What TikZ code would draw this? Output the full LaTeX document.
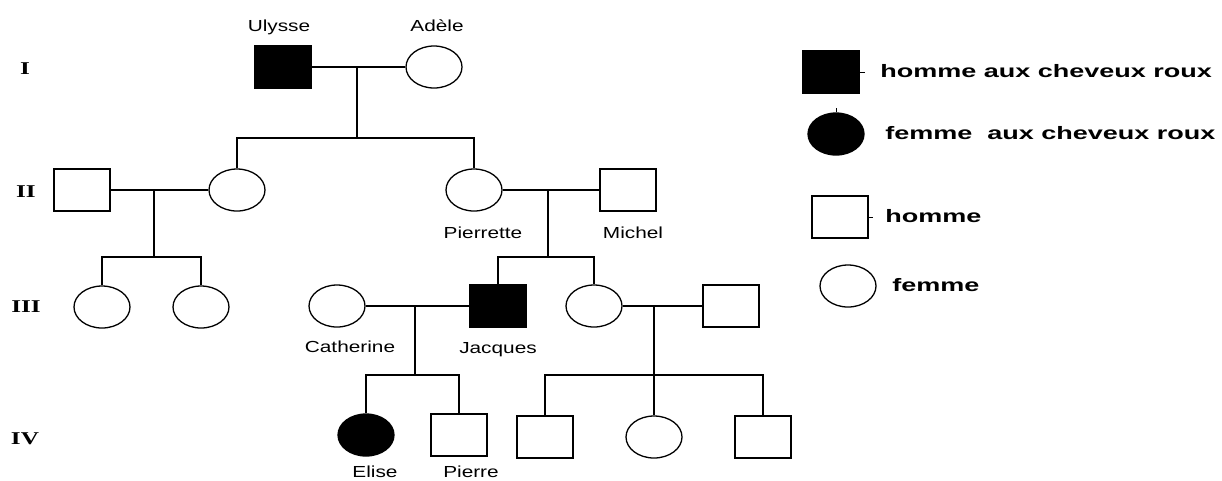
\documentclass[tikz,border=0pt]{standalone}
\usepackage{fontspec}
\setmainfont{Liberation Sans}
\newfontfamily\genfont{Liberation Serif}
\usepackage{graphicx}
\usetikzlibrary{positioning,shapes.geometric}

\newcommand{\wide}[2][1.3]{\scalebox{#1}[1]{#2}}

\begin{document}
\begin{tikzpicture}[x=1pt, y=-1pt, line width=1.3pt,
    every node/.style = {inner sep=0pt},
    homme/.style = {draw, rectangle, minimum width=56pt, minimum height=42pt},
    femme/.style = {draw, ellipse, minimum width=56pt, minimum height=42pt},
    roux/.style = {fill=black},
    nom/.style = {font=\fontsize{16}{19}\selectfont, text height=11.5pt, text depth=3.5pt},
    gen/.style = {font=\genfont\bfseries\fontsize{18}{21}\selectfont},
    leg/.style = {font=\bfseries\fontsize{18}{21}\selectfont, text height=13pt, text depth=2pt}
  ]
  \useasboundingbox (0,0) rectangle (1222,480);

  % generations
  \node[gen] (g1) at (25,69) {\wide[1.4]{I}};
  \node[gen] (g2) at (26,192) {\wide[1.4]{II}};
  \node[gen] (g3) at (26,307) {\wide[1.4]{III}};
  \node[gen] (g4) at (25,439) {\wide[1.4]{IV}};

  % I
  \node[homme, roux] (ulysse) at (283,67) {};
  \node[femme] (adele) at (434,67) {};
  \node[nom, above=9.5pt of ulysse, xshift=-4pt] (ulysseN) {\wide{Ulysse}};
  \node[nom, above=9.5pt of adele, xshift=3pt] (adeleN) {\wide{Adèle}};

  % II
  \node[homme] (mari) at (82,190) {};
  \node[femme] (fille) at (237,190) {};
  \node[femme] (pierrette) at (474,190) {};
  \node[homme] (michel) at (628,190) {};
  \node[nom, below=14.5pt of pierrette, xshift=9pt] (pierretteN) {\wide{Pierrette}};
  \node[nom, below=14.5pt of michel, xshift=5pt] (michelN) {\wide{Michel}};

  % III
  \node[femme] (f1) at (102,307) {};
  \node[femme] (f2) at (201,307) {};
  \node[femme] (catherine) at (337,306) {};
  \node[homme, roux] (jacques) at (498,306) {};
  \node[femme] (soeur) at (594,306) {};
  \node[homme] (beaufrere) at (731,306) {};
  \node[nom, below=13pt of catherine, xshift=13pt] (catherineN) {\wide{Catherine}};
  \node[nom, below=13.5pt of jacques] (jacquesN) {\wide{Jacques}};

  % IV
  \node[femme, roux] (elise) at (366,435) {};
  \node[homme] (pierre) at (459,435) {};
  \node[homme] (c1) at (545,437) {};
  \node[femme] (c2) at (654,437) {};
  \node[homme] (c3) at (763,437) {};
  \node[nom, below=8.5pt of elise, xshift=9pt] (eliseN) {\wide{Elise}};
  \node[nom, below=8.5pt of pierre, xshift=12pt] (pierreN) {\wide{Pierre}};

  % unions and sibships
  \coordinate (u1) at (357,67);  \coordinate (s1) at (357,138);
  \coordinate (u2) at (154,190); \coordinate (s2) at (154,257);
  \coordinate (u3) at (548,190); \coordinate (s3) at (548,257);
  \coordinate (u4) at (415,306); \coordinate (s4) at (415,375);
  \coordinate (u5) at (654,306); \coordinate (s5) at (654,375);

  \draw (ulysse) -- (adele);
  \draw (u1) -- (s1);
  \draw (fille) |- (s1) -| (pierrette);

  \draw (mari) -- (fille);
  \draw (u2) -- (s2);
  \draw (f1) |- (s2) -| (f2);

  \draw (pierrette) -- (michel);
  \draw (u3) -- (s3);
  \draw (jacques) |- (s3) -| (soeur);

  \draw (catherine) -- (jacques);
  \draw (u4) -- (s4);
  \draw (elise) |- (s4) -| (pierre);

  \draw (soeur) -- (beaufrere);
  \draw (u5) -- (s5);
  \draw (c1) |- (s5) -| (c3);
  \draw (s5) -- (c2);

  % legend
  \node[homme, roux] (legHR) at (831,72) {};
  \node[femme, roux] (legFR) at (836,134) {};
  \node[homme] (legH) at (840,217) {};
  \node[femme] (legF) at (848,286) {};
  \node[leg, right=20pt of legHR] (legHRt) {\wide[1.5]{homme aux cheveux roux}};
  \node[leg, right=20pt of legFR] (legFRt) {\wide[1.5]{femme\ \ aux cheveux roux}};
  \node[leg, right=16pt of legH] (legHt) {\wide[1.5]{homme}};
  \node[leg, right=15pt of legF] (legFt) {\wide[1.5]{femme}};
  \draw[line width=1pt] (legHR.east) -- ++(5,0);
  \draw[line width=1pt] (legFR.north) -- ++(0,-4);
  \draw[line width=1pt] (legH.east) -- ++(4,0);
\end{tikzpicture}
\end{document}
